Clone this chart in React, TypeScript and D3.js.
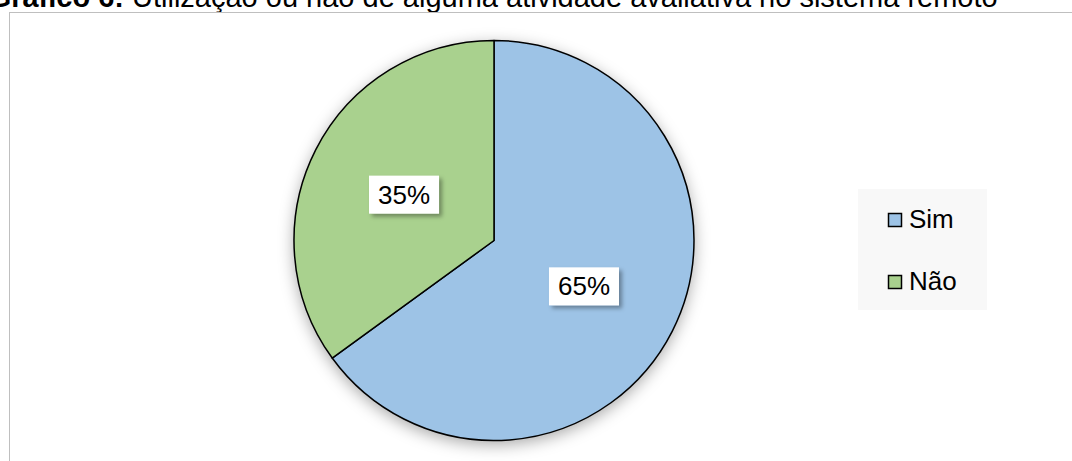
import React from "react";
import * as d3 from "d3";

const categories = ["Sim", "Não"];
const values = [65, 35];
const colors = ["#9dc3e6", "#a9d18e"];
const titleBold = "Gráfico 6:";
const titleRest = "Utilização ou não de alguma atividade avaliativa no sistema remoto";

const W = 1072;
const H = 461;
const cx = 494;
const cy = 240.5;
const R = 200;

export default function App() {
  const pie = d3.pie<number>().sort(null).value((d) => d);
  const arcs = pie(values);
  const arc = d3.arc<d3.PieArcDatum<number>>().innerRadius(0).outerRadius(R);
  const total = d3.sum(values);
  const font = "Arial, 'Liberation Sans', sans-serif";

  return (
    <svg
      width={W}
      height={H}
      style={{ position: "absolute", left: 0, top: 0, display: "block" }}
    >
      <defs>
        <filter id="pieShadow" x="-30%" y="-30%" width="160%" height="160%">
          <feDropShadow dx="0" dy="4" stdDeviation="8" floodColor="#000" floodOpacity="0.35" />
        </filter>
        <filter id="boxShadow" x="-30%" y="-30%" width="160%" height="160%">
          <feDropShadow dx="3" dy="3" stdDeviation="2" floodColor="#000" floodOpacity="0.35" />
        </filter>
      </defs>
      <rect x={0} y={0} width={W} height={H} fill="#fff" />
      <text x={124} y={6.5} textAnchor="end" fontFamily={font} fontSize={29} fontWeight="bold" fill="#000">
        {titleBold}
      </text>
      <text x={132} y={6.5} fontFamily={font} fontSize={29} fill="#000">
        {titleRest}
      </text>
      <rect x={9.5} y={12.5} width={W + 10} height={H + 10} fill="none" stroke="#bfbfbf" strokeWidth={1} />
      <g transform={`translate(${cx},${cy})`}>
        <g filter="url(#pieShadow)">
          {arcs.map((a, i) => (
            <path key={"s" + i} d={arc(a) || ""} fill={colors[i]} />
          ))}
        </g>
        {arcs.map((a, i) => (
          <path key={i} d={arc(a) || ""} fill={colors[i]} stroke="#000" strokeWidth={1.5} strokeLinejoin="round" />
        ))}
        {arcs.map((a, i) => {
          const [lx, ly] = arc.centroid(a);
          const label = `${Math.round((values[i] / total) * 100)}%`;
          return (
            <g key={"l" + i} transform={`translate(${lx * 1.01},${ly * 1.01})`}>
              <rect x={-35} y={-19} width={70} height={38} fill="#fff" filter="url(#boxShadow)" />
              <text x={0} y={9} textAnchor="middle" fontFamily={font} fontSize={26} fill="#000">
                {label}
              </text>
            </g>
          );
        })}
      </g>
      <rect x={858} y={189} width={129} height={121} fill="#f8f8f8" />
      {categories.map((c, i) => (
        <g key={c} transform={`translate(888,${213 + i * 62})`}>
          <rect x={0.5} y={0.5} width={13} height={13} fill={colors[i]} stroke="#000" strokeWidth={1.5} />
          <text x={21} y={15} fontFamily={font} fontSize={26} fill="#000">
            {c}
          </text>
        </g>
      ))}
    </svg>
  );
}
